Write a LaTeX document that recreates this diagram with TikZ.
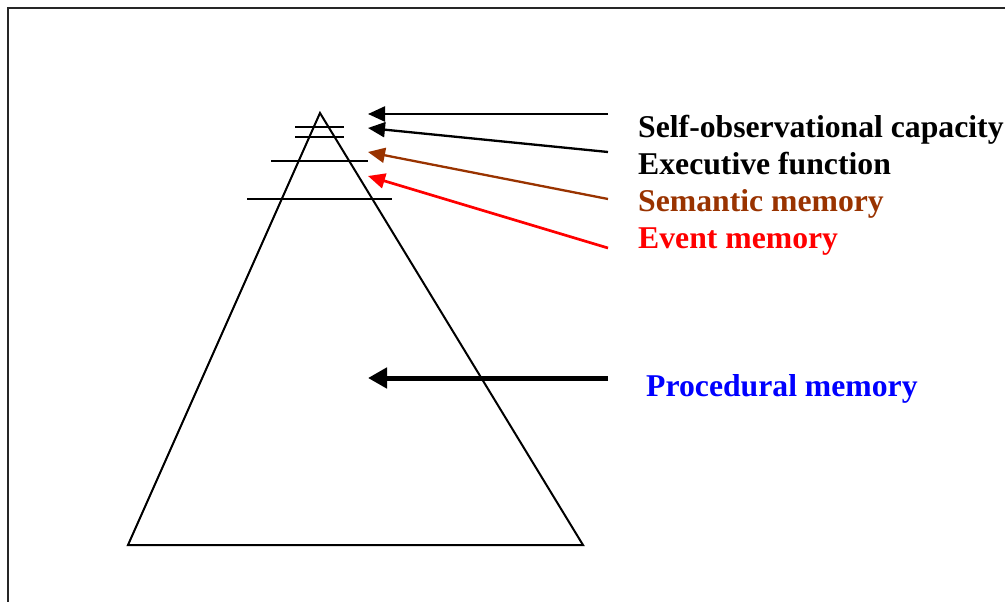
\documentclass[tikz,border=0pt]{standalone}
\usepackage{fontspec}
\setmainfont{Liberation Serif}
\usetikzlibrary{arrows.meta}
\definecolor{brownc}{RGB}{153,51,0}
\begin{document}
\begin{tikzpicture}[x=1pt,y=-1pt,
  lbl/.style={anchor=base west,inner sep=0pt,font=\fontsize{31.7}{36}\selectfont\bfseries},
  thinarrow/.style={line width=2.3pt,-{Triangle[length=17pt,width=15pt]}},
  thickarrow/.style={line width=5pt,-{Triangle[length=19pt,width=20pt]}},
  rung/.style={line width=2pt},
  edge/.style={line width=2pt}]
\useasboundingbox (0,0) rectangle (1005,602);
\fill[white] (0,0) rectangle (1005,602);
% frame
\draw[line width=2.5pt,black!85] (8,610) -- (8,8) -- (1012,8);
% triangle
\coordinate (apex) at (320,113);
\coordinate (bl) at (128,545);
\coordinate (br) at (583,545);
\draw[edge,line join=miter] (apex) -- (bl) -- (br) -- cycle;
% rungs
\draw[rung] (295,127) -- (344,127);
\draw[rung] (295,137) -- (344,137);
\draw[rung] (271,161) -- (368,161);
\draw[rung] (247,199) -- (392,199);
% labels
\node[lbl,text=black] (self) at (638,137) {Self-observational capacity};
\node[lbl,text=black] (exec) at (638,174) {Executive function};
\node[lbl,text=brownc] (sem) at (638,211) {Semantic memory};
\node[lbl,text=red] (event) at (638,248) {Event memory};
\node[lbl,text=blue] (proc) at (646,396) {Procedural memory};
% arrow ends
\coordinate (s1) at (608,114); \coordinate (t1) at (368,114);
\coordinate (s2) at (608,152); \coordinate (t2) at (368,128);
\coordinate (s3) at (608,199); \coordinate (t3) at (368,152);
\coordinate (s4) at (608,248); \coordinate (t4) at (368,176);
\coordinate (s5) at (608,378); \coordinate (t5) at (368,378);
\draw[thinarrow] (s1) -- (t1);
\draw[thinarrow] (s2) -- (t2);
\draw[thinarrow,brownc] (s3) -- (t3);
\draw[thinarrow,red,line width=2.7pt] (s4) -- (t4);
\draw[thickarrow] (s5) -- (t5);
\end{tikzpicture}
\end{document}
